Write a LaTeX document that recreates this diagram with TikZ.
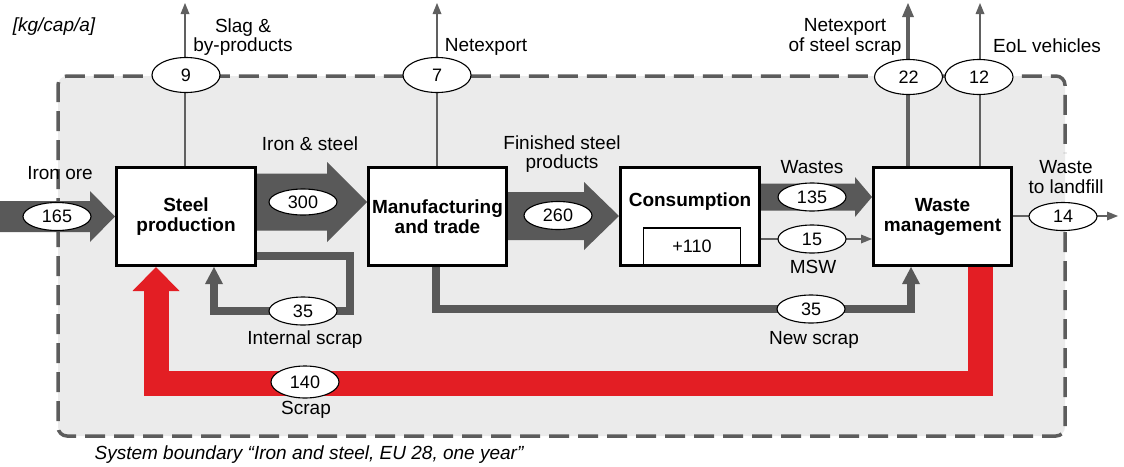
\documentclass[tikz,border=0pt]{standalone}
\usepackage{fontspec}
\setmainfont{Liberation Sans}
\usetikzlibrary{arrows.meta,shapes.geometric,calc}

\definecolor{flowgray}{HTML}{595959}
\definecolor{linegray}{HTML}{606060}
\definecolor{zonefill}{HTML}{EBEBEB}
\definecolor{zoneline}{HTML}{5C5C5C}
\definecolor{scrapred}{HTML}{E31E24}

% broad horizontal flow arrow: start, tip, shaft half-width, head half-width, head length
\newcommand\hflow[5]{%
  \fill[flowgray] let \p1=#1, \p2=#2 in
    (\x1,\y2-#3) -- (\x2-#5,\y2-#3) -- (\x2-#5,\y2-#4) -- (\x2,\y2)
    -- (\x2-#5,\y2+#4) -- (\x2-#5,\y2+#3) -- (\x1,\y2+#3) -- cycle;}

\tikzset{
  proc/.style={draw=black, line width=3pt, fill=white, minimum width=139pt,
    minimum height=98pt, inner sep=0pt, align=center,
    font=\fontsize{19}{20}\selectfont\bfseries},
  qty/.style={ellipse, draw=black, line width=1.1pt, fill=white,
    minimum width=68pt, minimum height=28pt, inner sep=0pt,
    font=\fontsize{18}{20}\selectfont},
  qtytop/.style={qty, minimum height=35pt},
  lbl/.style={inner sep=0pt, align=center},
  thinflow/.style={draw=linegray, line width=2pt,
    -{Triangle[length=11pt,width=9pt,line width=0pt]}},
  loopflow/.style={draw=flowgray, line width=7.5pt, line join=miter,
    -{Triangle[length=17pt,width=18pt,line width=0pt]}},
  redflow/.style={draw=scrapred, line width=25pt, line join=miter,
    -{Triangle[length=24pt,width=47pt,line width=0pt]}},
  boundary/.style={draw=zoneline, line width=3.5pt, rounded corners=9pt,
    dash pattern=on 20pt off 9pt},
}

\begin{document}
\begin{tikzpicture}[x=1pt, y=-1pt, font=\fontsize{19}{19.5}\selectfont]
\useasboundingbox (0,0) rectangle (1124,466);

% system boundary: grey area, dashed outline left open behind the landfill label
\fill[zonefill, rounded corners=9pt] (58,76) rectangle (1065,436);
\draw[boundary] (1065,232) -- (1065,436) -- (58,436) -- (58,76) -- (1065,76) -- (1065,153);

% processes
\node[proc] (steel) at (186,216.5) {Steel\\production};
\node[proc, minimum width=138pt] (manuf) at (437.5,216.5) {Manufacturing\\and trade};
\node[proc] (cons) at (690,216.5) {};
\node[proc, minimum width=138pt] (waste) at (942.5,216.5) {Waste\\management};
\node[lbl, font=\fontsize{19}{20}\selectfont\bfseries] (consT) at (690,202) {Consumption};
\node[draw=black, line width=1.5pt, fill=white, minimum width=97pt,
  minimum height=36.5pt, inner sep=0pt, font=\fontsize{18}{20}\selectfont] (stock) at (692,246.25) {+110};

% reference points of the flows
\coordinate (oreIn) at (0,216.5);
\coordinate (isY) at (0,202);
\coordinate (fsY) at (0,216);
\coordinate (wsY) at (0,197);
\coordinate (mswY) at (0,239);
\coordinate (slagEnd) at (185,3);
\coordinate (netEnd) at (437,3);
\coordinate (sxEnd) at (908,3);
\coordinate (eolEnd) at (980,3);
\coordinate (lfEnd) at (1118,216);
\coordinate (i1) at (350,256);
\coordinate (i2) at (350,311);
\coordinate (i3) at (214,311);
\coordinate (n1) at (436,309);
\coordinate (n2) at (911,309);
\coordinate (redR) at (980,383);
\coordinate (redL) at (156,383);

% main flows
\hflow{(oreIn)}{(steel.west)}{15.5pt}{25.5pt}{25pt}
\hflow{(steel.east |- isY)}{(manuf.west |- isY)}{28.5pt}{40pt}{40pt}
\hflow{(manuf.east |- fsY)}{(cons.west |- fsY)}{24pt}{34pt}{35pt}
\hflow{(cons.east |- wsY)}{(waste.west |- wsY)}{13.5pt}{20pt}{17pt}

% recycling loops
\draw[redflow] (waste.south -| redR) -- (redR) -- (redL) -- (steel.south -| redL);
\draw[loopflow] (steel.east |- i1) -- (i1) -- (i2) -- (i3) -- (steel.south -| i3);
\draw[loopflow, line width=8pt] (manuf.south -| n1) -- (n1) -- (n2) -- (waste.south -| n2);

% thin flows
\draw[thinflow] (cons.east |- mswY) -- (waste.west |- mswY);
\draw[thinflow] (waste.east |- lfEnd) -- (lfEnd);
\draw[thinflow] (steel.north -| slagEnd) -- (slagEnd);
\draw[thinflow] (manuf.north -| netEnd) -- (netEnd);
\draw[thinflow] (waste.north -| eolEnd) -- (eolEnd);
\draw[draw=linegray, line width=4pt,
  -{Triangle[length=14pt,width=12pt,line width=0pt]}] (waste.north -| sxEnd) -- (sxEnd);

% quantities
\node[qty] (q165) at (57,216.5) {165};
\node[qty, minimum height=26pt] (q300) at (303,202) {300};
\node[qty] (q260) at (558,215.5) {260};
\node[qty] (q135) at (812,197) {135};
\node[qty] (q15) at (812,239) {15};
\node[qty] (q14) at (1063,216.5) {14};
\node[qty] (q35a) at (303,311) {35};
\node[qty] (q35b) at (811,309) {35};
\node[qty, minimum height=32pt] (q140) at (305,382) {140};
\node[qtytop] (q9) at (186,75) {9};
\node[qtytop] (q7) at (437,75) {7};
\node[qtytop] (q22) at (908.5,77) {22};
\node[qtytop] (q12) at (979,77) {12};

% labels
\node[lbl, font=\fontsize{19}{19.5}\selectfont\itshape] (unitT) at (54,27) {[kg/cap/a]};
\node[lbl] (slagT) at (243,37) {Slag \&\\by-products};
\node[lbl] (netT) at (486,47) {Netexport};
\node[lbl] (sxT) at (845,37) {Netexport\\of steel scrap};
\node[lbl] (eolT) at (1047,46) {EoL vehicles};
\node[lbl] (oreT) at (60,173) {Iron ore};
\node[lbl] (isT) at (310,144) {Iron \& steel};
\node[lbl] (fspT) at (562,154) {Finished steel\\products};
\node[lbl] (wasT) at (812,167) {Wastes};
\node[lbl] (mswT) at (813,267) {MSW};
\node[lbl] (lfT) at (1066,177) {Waste\\to landfill};
\node[lbl] (intT) at (305,340) {Internal scrap};
\node[lbl] (newT) at (814,340) {New scrap};
\node[lbl] (scrT) at (306,410) {Scrap};
\node[lbl, font=\fontsize{19}{19.5}\selectfont\itshape] (sysT) at (309,455)
  {System boundary “Iron and steel, EU 28, one year”};
\end{tikzpicture}
\end{document}
